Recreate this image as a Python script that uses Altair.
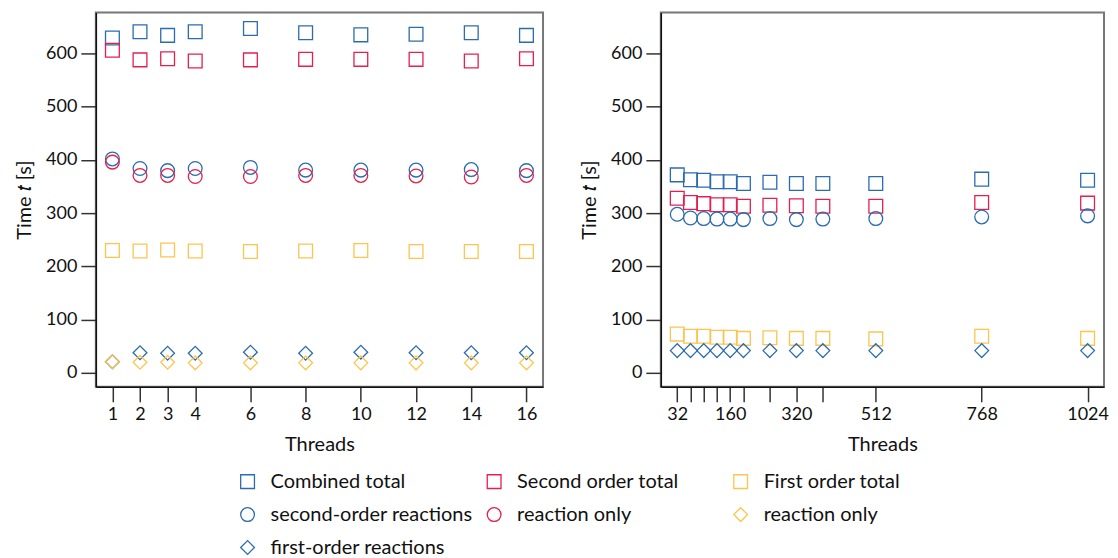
import altair as alt
import pandas as pd

# ---- data ----
threads_left = [1, 2, 3, 4, 6, 8, 10, 12, 14, 16]
combined_left = [629, 641, 634, 641, 647, 639, 635, 636, 639, 634]
second_total_left = [606, 588, 590, 586, 588, 589, 589, 589, 586, 590]
first_total_left = [230, 229, 231, 229, 228, 229, 230, 228, 228, 228]
second_rxn_left = [402, 384, 380, 384, 386, 381, 381, 381, 382, 380]
second_only_left = [396, 371, 371, 369, 369, 371, 371, 370, 368, 371]
first_rxn_left = [21, 38, 37, 37, 39, 37, 39, 38, 38, 38]
first_only_left = [21, 20, 20, 19, 19, 19, 19, 19, 19, 19]

threads_right = [32, 64, 96, 128, 160, 192, 256, 320, 384, 512, 768, 1024]
combined_right = [372, 363, 362, 359, 359, 356, 358, 356, 356, 356, 364, 362]
second_total_right = [328, 320, 318, 316, 316, 313, 315, 314, 313, 313, 320, 319]
first_total_right = [73, 69, 69, 67, 67, 65, 66, 65, 65, 64, 69, 65]
second_rxn_right = [298, 291, 290, 289, 289, 288, 290, 288, 289, 290, 293, 295]
first_rxn_right = [42, 42, 42, 42, 42, 42, 42, 42, 42, 42, 42, 42]

right_labels = [32, 160, 320, 512, 768, 1024]
y_ticks = [0, 100, 200, 300, 400, 500, 600]

series_keys = ["Combined total", "Second order total", "First order total",
               "second-order reactions", "reaction only", "reaction only ",
               "first-order reactions"]
series_colors = ["#2b6cb0", "#e3204e", "#fdc44f",
                 "#2b6cb0", "#e3204e", "#fdc44f", "#2b6cb0"]
series_shapes = ["square", "square", "square", "circle", "circle", "diamond", "diamond"]


def long_df(threads, cols):
    rows = []
    for name, vals in cols:
        for t, v in zip(threads, vals):
            rows.append({"threads": t, "time": v, "series": name})
    return pd.DataFrame(rows)


df_left = long_df(threads_left, [
    ("Combined total", combined_left),
    ("Second order total", second_total_left),
    ("First order total", first_total_left),
    ("second-order reactions", second_rxn_left),
    ("reaction only", second_only_left),
    ("first-order reactions", first_rxn_left),
    ("reaction only ", first_only_left),
])
df_right = long_df(threads_right, [
    ("Combined total", combined_right),
    ("Second order total", second_total_right),
    ("First order total", first_total_right),
    ("second-order reactions", second_rxn_right),
    ("first-order reactions", first_rxn_right),
])

FONT = "Lato"

legend = alt.Legend(
    title=None, orient="none", legendX=142, legendY=460,
    columns=3, direction="horizontal", gridAlign="all",
    symbolSize=150, symbolStrokeWidth=1.3, symbolType="square",
    labelFontSize=20, labelFont=FONT, labelColor="#111", labelLimit=400,
    labelOffset=13, rowPadding=13, columnPadding=11,
)

color = alt.Color("series:N", scale=alt.Scale(domain=series_keys, range=series_colors), legend=legend)
shape = alt.Shape("series:N", scale=alt.Scale(domain=series_keys, range=series_shapes), legend=legend)
size = alt.Size("series:N", scale=alt.Scale(domain=series_keys,
                                            range=[190, 190, 190, 290, 290, 380, 380]), legend=None)

y_enc = alt.Y("time:Q", title="Time 𝑡 [s]",
              scale=alt.Scale(domain=[-26, 677], nice=False, zero=False),
              axis=alt.Axis(values=y_ticks, grid=False))


def panel(df, x_enc, w):
    return alt.Chart(df).mark_point(filled=False, strokeWidth=1.3, opacity=1).encode(
        x=x_enc, y=y_enc, color=color, shape=shape, size=size
    ).properties(width=w, height=375)


left = panel(df_left, alt.X("threads:Q", title="Threads",
                            scale=alt.Scale(domain=[0.4, 16.6], nice=False, zero=False),
                            axis=alt.Axis(values=threads_left, grid=False, format="d")), 448)
right = panel(df_right, alt.X("threads:Q", title="Threads",
                              scale=alt.Scale(domain=[-7.7, 1063.7], nice=False, zero=False),
                              axis=alt.Axis(values=threads_right, grid=False, format="d",
                                            labelExpr="indexof([32,160,320,512,768,1024], datum.value) >= 0 ? datum.label : ''")), 444)

chart = alt.hconcat(left, right, spacing=34).properties(
    padding={"left": 5, "top": 3, "right": 0, "bottom": 0}
).configure_view(
    stroke="#777", strokeWidth=2
).configure_axis(
    domainColor="#111", domainWidth=1.5,
    tickColor="#333", tickWidth=1.5, tickSize=15,
    labelFont=FONT, labelFontSize=18, labelColor="#111", labelPadding=4,
    titleFont=FONT, titleFontSize=20, titleColor="#111", titleFontWeight="normal",
    titlePadding=11,
)

chart.save("out.html", embed_options={"renderer": "svg", "actions": False})
